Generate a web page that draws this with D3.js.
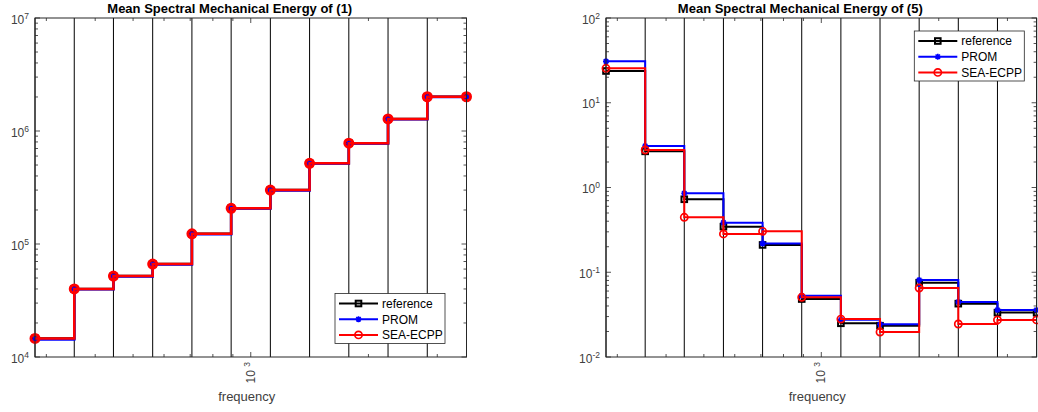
<!DOCTYPE html>
<html>
<head>
<meta charset="utf-8">
<script src="https://cdn.jsdelivr.net/npm/d3@7"></script>
<style>
  body { margin: 0; background: #fff; }
  text { font-family: "Liberation Sans", Arial, Helvetica, sans-serif; }
</style>
</head>
<body>
<div id="chart-area"></div>
<script>

// third-octave band edges (Hz)
var bandEdges = [280.6, 353.6, 445.4, 561.2, 707.1, 890.9, 1122.5, 1414.2, 1781.8, 2244.9, 2828.4, 3563.6];

// subsystem (1)
var ref1  = [1.46e4, 4.0e4, 5.2e4, 6.65e4, 1.23e5, 2.07e5, 3.0e5, 5.18e5, 7.8e5, 1.28e6, 2.01e6, 2.01e6];
var prom1 = [1.43e4, 3.98e4, 5.15e4, 6.6e4, 1.22e5, 2.06e5, 2.98e5, 5.15e5, 7.75e5, 1.27e6, 2.0e6, 2.0e6];
var sea1  = [1.46e4, 4.0e4, 5.2e4, 6.65e4, 1.23e5, 2.07e5, 3.0e5, 5.18e5, 7.8e5, 1.28e6, 2.01e6, 2.01e6];

// subsystem (5)
var ref5  = [23.7, 2.67, 0.726, 0.345, 0.210, 0.0483, 0.025, 0.0234, 0.0753, 0.0426, 0.0334, 0.0334];
var prom5 = [30.8, 3.09, 0.853, 0.385, 0.219, 0.0529, 0.0275, 0.0243, 0.081, 0.0446, 0.0359, 0.0359];
var sea5  = [25.5, 2.77, 0.445, 0.283, 0.304, 0.0506, 0.028, 0.0197, 0.0652, 0.0245, 0.0274, 0.0274];

var seriesNames = ["reference", "PROM", "SEA-ECPP"];
var titles = ["Mean Spectral Mechanical Energy of (1)", "Mean Spectral Mechanical Energy of (5)"];
var yTicks1 = [1e4, 1e5, 1e6, 1e7];
var yTicks5 = [1e-2, 1e-1, 1e0, 1e1, 1e2];
var xTicks = [1000];
var xMinor = [300, 400, 500, 600, 700, 800, 900, 2000, 3000];

const svgWidth = 1038, svgHeight = 412;
var axisColor = "#262626";
var labelColor = "#404040";
var colors = ["#000000", "#0000ff", "#ff0000"];

var svg = d3.select("#chart-area").append("svg")
    .attr("width", svgWidth)
    .attr("height", svgHeight);

svg.append("rect").attr("width", svgWidth).attr("height", svgHeight).attr("fill", "#fff");

function drawPanel(p){
    var g = svg.append("g");
    var x = d3.scaleLog().domain([bandEdges[0], bandEdges[bandEdges.length-1]]).range([p.left, p.right]);
    var y = d3.scaleLog().domain(p.yDomain).range([p.bottom, p.top]);

    // band edge lines
    g.selectAll(".band").data(bandEdges).enter().append("line")
        .attr("x1", function(d){ return x(d); })
        .attr("x2", function(d){ return x(d); })
        .attr("y1", p.top).attr("y2", p.bottom)
        .attr("stroke", "#000").attr("stroke-width", 1);

    // minor y ticks (2..9 in each decade)
    var yMinor = [];
    for (var i = 0; i < p.yTicks.length - 1; i++){
        for (var k = 2; k <= 9; k++) yMinor.push(p.yTicks[i] * k);
    }
    var tk = g.append("g").attr("stroke", axisColor).attr("stroke-width", 0.8);
    yMinor.forEach(function(v){
        tk.append("line").attr("x1", p.left).attr("x2", p.left+3).attr("y1", y(v)).attr("y2", y(v));
        tk.append("line").attr("x1", p.right).attr("x2", p.right-3).attr("y1", y(v)).attr("y2", y(v));
    });
    p.yTicks.forEach(function(v){
        tk.append("line").attr("x1", p.left).attr("x2", p.left+5).attr("y1", y(v)).attr("y2", y(v));
        tk.append("line").attr("x1", p.right).attr("x2", p.right-5).attr("y1", y(v)).attr("y2", y(v));
    });
    xMinor.forEach(function(v){
        tk.append("line").attr("x1", x(v)).attr("x2", x(v)).attr("y1", p.bottom).attr("y2", p.bottom-3);
        tk.append("line").attr("x1", x(v)).attr("x2", x(v)).attr("y1", p.top).attr("y2", p.top+3);
    });
    xTicks.forEach(function(v){
        tk.append("line").attr("x1", x(v)).attr("x2", x(v)).attr("y1", p.bottom).attr("y2", p.bottom-5);
        tk.append("line").attr("x1", x(v)).attr("x2", x(v)).attr("y1", p.top).attr("y2", p.top+5);
    });

    // y tick labels 10^n
    p.yTicks.forEach(function(v){
        var e = Math.round(Math.log10(v));
        var t = g.append("text")
            .attr("x", p.left - 6)
            .attr("y", y(v) + 5.5)
            .attr("text-anchor", "end")
            .attr("font-size", "12px")
            .attr("fill", labelColor);
        t.append("tspan").text("10");
        t.append("tspan").attr("dy", -5).attr("font-size", "8.5px").text(e);
    });

    // x tick labels (rotated)
    xTicks.forEach(function(v){
        var t = g.append("text")
            .attr("transform", "translate(" + (x(v)+4) + "," + (p.bottom + 5) + ") rotate(-90)")
            .attr("text-anchor", "end")
            .attr("font-size", "12px")
            .attr("fill", labelColor);
        t.append("tspan").text("10 ");
        t.append("tspan").attr("dy", -5).attr("font-size", "8.5px").text(Math.round(Math.log10(v)));
    });

    // x label
    g.append("text")
        .attr("x", (p.left + p.right)/2 - 4)
        .attr("y", 401)
        .attr("text-anchor", "middle")
        .attr("font-size", "13px")
        .attr("fill", labelColor)
        .text("frequency");

    // title
    g.append("text")
        .attr("x", (p.left + p.right)/2 - 21)
        .attr("y", 13)
        .attr("text-anchor", "middle")
        .attr("font-size", "13px")
        .attr("font-weight", "bold")
        .attr("fill", "#000")
        .text(p.title);

    // step lines
    var line = d3.line()
        .x(function(d, i){ return x(bandEdges[i]); })
        .y(function(d){ return y(d); })
        .curve(d3.curveStepAfter);

    p.series.forEach(function(s, si){
        g.append("path")
            .attr("fill", "none")
            .attr("stroke", colors[si])
            .attr("stroke-width", p.lineWidth)
            .attr("d", line(s));
        s.forEach(function(v, i){
            drawMarker(g, si, x(bandEdges[i]), y(v), p.big);
        });
    });

    // axes box
    g.append("rect")
        .attr("x", p.left).attr("y", p.top)
        .attr("width", p.right - p.left).attr("height", p.bottom - p.top)
        .attr("fill", "none").attr("stroke", axisColor).attr("stroke-width", 1);

    // legend
    var lg = g.append("g").attr("transform", "translate(" + p.legend[0] + "," + p.legend[1] + ")");
    lg.append("rect")
        .attr("width", 110).attr("height", 50)
        .attr("fill", "#fff").attr("stroke", axisColor).attr("stroke-width", 0.8);
    seriesNames.forEach(function(name, si){
        var ly = 10 + si * 15.7;
        lg.append("line").attr("x1", 4).attr("x2", 43).attr("y1", ly).attr("y2", ly)
            .attr("stroke", colors[si]).attr("stroke-width", 2);
        drawMarker(lg, si, 23.5, ly, false);
        lg.append("text").attr("x", 47).attr("y", ly + 4.3)
            .attr("font-size", "12px").attr("fill", "#000").text(name);
    });
}

function drawMarker(g, si, cx, cy, big){
    if (si === 0){
        g.append("rect")
            .attr("x", cx - 2.8).attr("y", cy - 2.8)
            .attr("width", 5.6).attr("height", 5.6)
            .attr("fill", "none").attr("stroke", colors[0]).attr("stroke-width", 2);
    } else if (si === 1){
        var r = 3, q = 2.2;
        g.append("path")
            .attr("d", "M" + (cx-r) + "," + cy + "L" + (cx+r) + "," + cy +
                       "M" + cx + "," + (cy-r) + "L" + cx + "," + (cy+r) +
                       "M" + (cx-q) + "," + (cy-q) + "L" + (cx+q) + "," + (cy+q) +
                       "M" + (cx-q) + "," + (cy+q) + "L" + (cx+q) + "," + (cy-q))
            .attr("fill", "none").attr("stroke", colors[1]).attr("stroke-width", 1.6);
    } else {
        g.append("circle")
            .attr("cx", cx).attr("cy", cy)
            .attr("r", big ? 4 : 3.6)
            .attr("fill", "none").attr("stroke", colors[2])
            .attr("stroke-width", big ? 3 : 1.7);
    }
}

drawPanel({
    left: 35, right: 466.5, top: 18, bottom: 357,
    yDomain: [1e4, 1e7], yTicks: yTicks1,
    series: [ref1, prom1, sea1],
    title: titles[0], legend: [335, 293.5], lineWidth: 2.5, big: true
});

drawPanel({
    left: 606, right: 1036.6, top: 18, bottom: 357,
    yDomain: [1e-2, 1e2], yTicks: yTicks5,
    series: [ref5, prom5, sea5],
    title: titles[1], legend: [914.3, 31], lineWidth: 2, big: false
});

</script>
</body>
</html>
